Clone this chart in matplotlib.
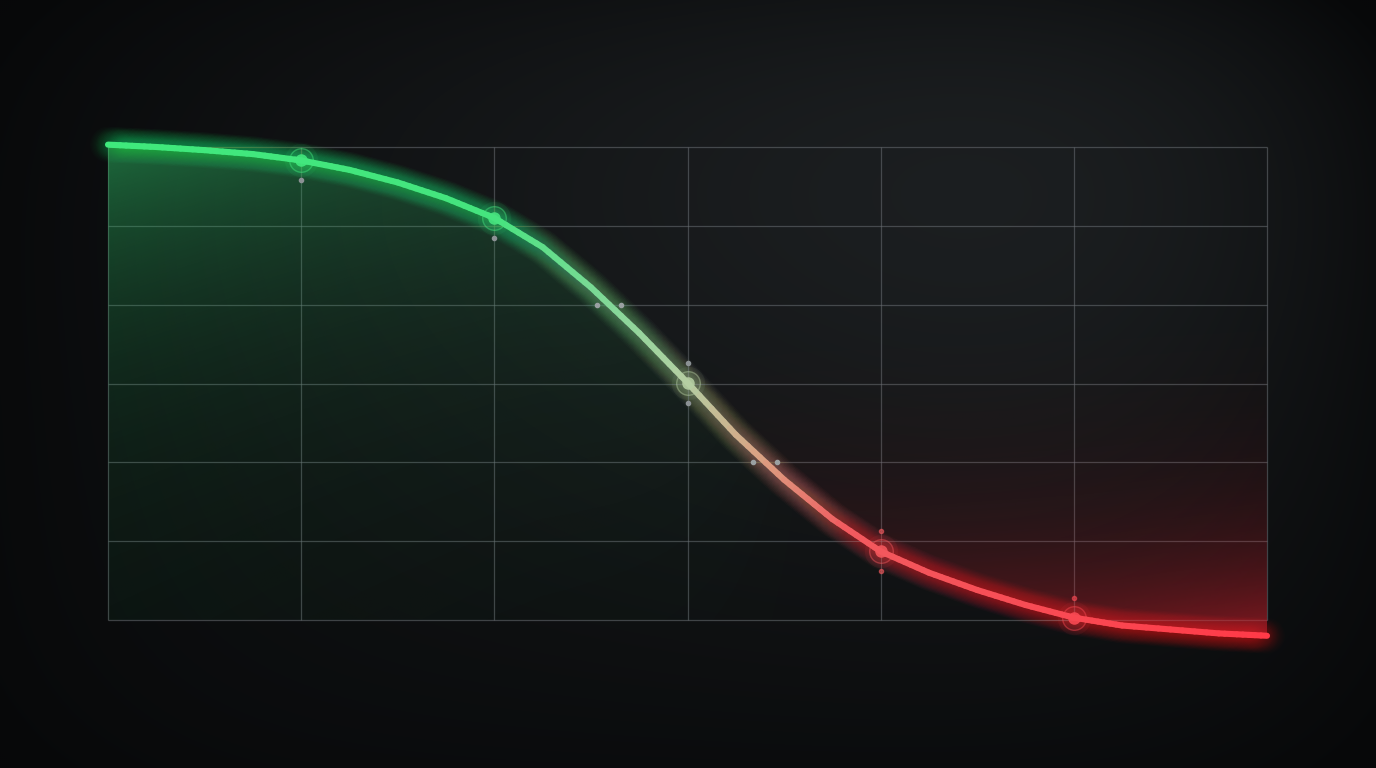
"""dark sigmoid decline chart, green to red glow
"""

import numpy as np
import matplotlib.pyplot as plt
from matplotlib.collections import LineCollection
from matplotlib.colors import LinearSegmentedColormap, to_rgba
from matplotlib.patches import Polygon
import matplotlib.transforms as mtransforms

plt.rcParams["savefig.dpi"] = 100

# curve values (grid units, 6 x 6 grid)
curve_x = [0, 0.25, 0.5, 0.75, 1, 1.25, 1.5, 1.75, 2, 2.25, 2.5, 2.75, 3,
           3.25, 3.5, 3.75, 4, 4.25, 4.5, 4.75, 5, 5.25, 5.5, 5.75, 6]
curve_y = [6.03, 6.00, 5.96, 5.91, 5.83, 5.71, 5.55, 5.35, 5.10, 4.73, 4.22,
           3.64, 3.01, 2.35, 1.78, 1.28, 0.87, 0.60, 0.38, 0.19, 0.03, -0.07,
           -0.12, -0.17, -0.20]
marker_x = [1, 2, 3, 4, 5]
grid_x = [0, 1, 2, 3, 4, 5, 6]
grid_y = [0, 1, 2, 3, 4, 5, 6]
cross_levels = [4, 2]

xs = np.array(curve_x, float)
ys = np.array(curve_y, float)

line_cmap = LinearSegmentedColormap.from_list("gr", [
    (0.0, "#3fe97c"), (0.33, "#45e47e"), (0.43, "#7fd897"),
    (0.5, "#b4cfa3"), (0.56, "#d9a585"), (0.64, "#f25a5f"),
    (1.0, "#ff3a48")])

fig = plt.figure(figsize=(13.76, 7.68))
ax = fig.add_axes([0, 0, 1, 1])
# data -> pixel: x 0..6 at 108..1267 px, y 0..6 at 620..147 px (from top)
pxx = (1267 - 108) / 6
pxy = (620 - 147) / 6
xlim = (-108 / pxx, (1376 - 108) / pxx)
ylim = (-(768 - 620) / pxy, 620 / pxy)
ax.set_xlim(*xlim)
ax.set_ylim(*ylim)
ax.axis("off")

# background vignette (row 0 = top of the picture)
H, W = 384, 688
gx, gy = np.meshgrid(np.linspace(0, 1376, W), np.linspace(0, 768, H))
glow = np.exp(-(((gx - 1050) / 700) ** 2 + ((gy - 130) / 430) ** 2))
edge = np.clip(1 - ((gx - 688) / 760) ** 4 - ((gy - 384) / 480) ** 4, 0, 1)
dark = np.array([7, 8, 9]) / 255
light = np.array([29, 32, 34]) / 255
bg = dark + (light - dark) * (0.22 * edge + 0.78 * glow * edge)[..., None]
ax.imshow(bg, extent=(*xlim, *ylim), origin="upper", aspect="auto",
          zorder=0, interpolation="bicubic")

# grid
ax.vlines(grid_x, grid_y[0], grid_y[-1], color="#6a6f74", lw=0.9,
          alpha=0.55, zorder=1)
ax.hlines(grid_y, grid_x[0], grid_x[-1], color="#6a6f74", lw=0.9,
          alpha=0.55, zorder=1)

# gradient fills, clipped under / over the curve
fx, fy = np.meshgrid(np.linspace(0, 6, 500), np.linspace(-0.3, 6.1, 400))
ext = (0, 6, -0.3, 6.1)
cy = np.interp(fx, xs, ys)

green = np.zeros(fx.shape + (4,))
green[..., :3] = np.array([45, 185, 100]) / 255
below = np.clip(cy - fy, 0, None)
green[..., 3] = (0.55 * np.clip(1 - fx / 3.7, 0, 1) ** 1.3
                 * (0.04 + 0.96 * np.exp(-below / 2.2)))
im_g = ax.imshow(green, extent=ext, origin="lower", aspect="auto", zorder=2)
poly_g = Polygon(np.vstack([np.column_stack([xs, ys]), [[6, 0], [0, 0]]]),
                 closed=True, facecolor="none", edgecolor="none", transform=ax.transData)
ax.add_patch(poly_g)
im_g.set_clip_path(poly_g)

red = np.zeros(fx.shape + (4,))
red[..., :3] = np.array([205, 32, 44]) / 255
above = np.clip(fy - cy, 0, None)
red[..., 3] = (0.6 * np.clip((fx - 2.9) / 3.1, 0, 1) ** 1.1
               * np.exp(-above / 1.6) * np.clip(1 - fy / 4.3, 0, 1))
im_r = ax.imshow(red, extent=ext, origin="lower", aspect="auto", zorder=2)
poly_r = Polygon(np.vstack([np.column_stack([xs, ys]), [[6, 6], [0, 6]]]),
                 closed=True, facecolor="none", edgecolor="none", transform=ax.transData)
ax.add_patch(poly_r)
im_r.set_clip_path(poly_r)

# curve: split each segment into short pieces so the colour runs smoothly
segs, cols = [], []
for i in range(len(xs) - 1):
    t = np.linspace(0, 1, 9)
    px = xs[i] + (xs[i + 1] - xs[i]) * t
    py = ys[i] + (ys[i + 1] - ys[i]) * t
    for j in range(len(t) - 1):
        segs.append([(px[j], py[j]), (px[j + 1], py[j + 1])])
        cols.append(line_cmap(((px[j] + px[j + 1]) / 2) / 6))
cols = np.array(cols)

# soft glow: many thin-alpha strokes so there is no visible banding
for lw in np.linspace(26, 6, 12):
    c = cols.copy()
    c[:, 3] = 0.016
    ax.add_collection(LineCollection(segs, colors=c, linewidths=lw,
                                     capstyle="round", zorder=3))
ax.add_collection(LineCollection(segs, colors=cols, linewidths=4.4,
                                 capstyle="round", zorder=4))

# markers on the grid verticals
for mx in marker_x:
    my = np.interp(mx, xs, ys)
    c = line_cmap(mx / 6)
    ax.plot(mx, my, "o", ms=24, mfc=to_rgba(c, 0.07), mec="none", zorder=5)
    ax.plot(mx, my, "o", ms=17, mfc=to_rgba(c, 0.10), mec=to_rgba(c, 0.45),
            mew=1.0, zorder=5)
    ax.plot(mx, my, "o", ms=9, mfc=c, mec="none", alpha=0.9, zorder=6)

# small guide dots on the verticals
dot_col = "#8b9194"
off = lambda dx, dy: mtransforms.offset_copy(ax.transData, fig=fig, x=dx, y=dy, units="dots")
for mx in marker_x:
    my = np.interp(mx, xs, ys)
    c = line_cmap(mx / 6)
    dc = dot_col if mx < 4 else to_rgba(c, 0.6)
    if mx <= 4:
        ax.plot(mx, my, "o", ms=3, color=dc, transform=off(0, -20), zorder=5)
    if mx >= 3:
        ax.plot(mx, my, "o", ms=3, color=dc, transform=off(0, 20), zorder=5)

# paired dots where the curve crosses two horizontal lines
for lev in cross_levels:
    cx = np.interp(lev, ys[::-1], xs[::-1])
    for dx in (-12, 12):
        ax.plot(cx, lev, "o", ms=3, color="#9aa0a2", transform=off(dx, 0), zorder=5)

plt.savefig("out.png")
plt.close()
